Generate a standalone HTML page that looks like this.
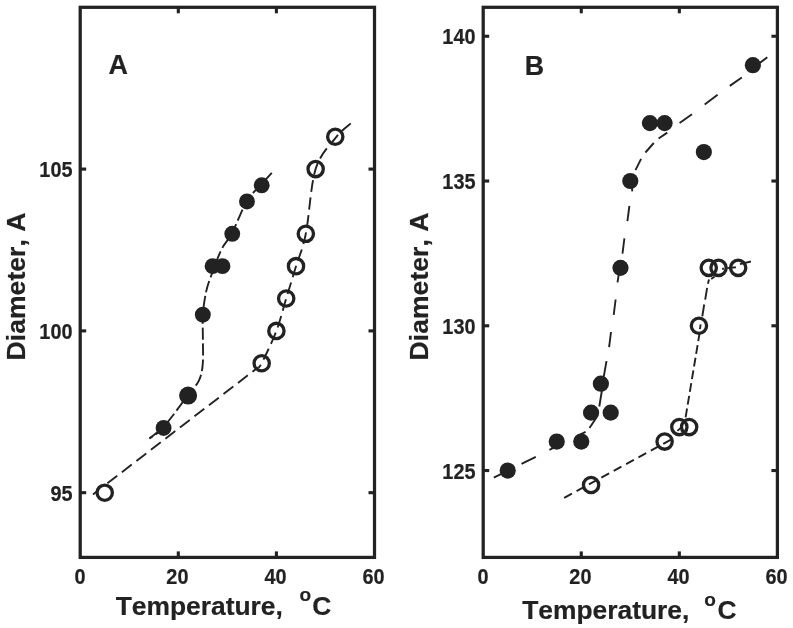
<!DOCTYPE html><html><head><meta charset="utf-8"><title>Diameter vs Temperature</title>
<style>html,body{margin:0;padding:0;background:#fff}svg{display:block;will-change:transform;opacity:.999}text{font-family:"Liberation Sans",Arial,Helvetica,sans-serif;font-weight:bold;fill:#222222;font-kerning:none;font-feature-settings:"kern" 0;stroke:#222222;stroke-width:.2px}.tk{stroke:#222222;stroke-width:.2px}</style></head><body>
<svg width="793" height="628" viewBox="0 0 793 628">
<rect width="793" height="628" fill="#fff"/>
<rect x="80.2" y="7.3" width="294.30" height="550.10" fill="none" stroke="#222222" stroke-width="3.25"/>
<line x1="178.30" y1="557.4" x2="178.30" y2="551.4" stroke="#222222" stroke-width="3.1"/>
<line x1="178.30" y1="7.3" x2="178.30" y2="13.3" stroke="#222222" stroke-width="3.1"/>
<line x1="276.40" y1="557.4" x2="276.40" y2="551.4" stroke="#222222" stroke-width="3.1"/>
<line x1="276.40" y1="7.3" x2="276.40" y2="13.3" stroke="#222222" stroke-width="3.1"/>
<line x1="80.2" y1="492.68" x2="86.2" y2="492.68" stroke="#222222" stroke-width="3.1"/>
<line x1="374.5" y1="492.68" x2="368.5" y2="492.68" stroke="#222222" stroke-width="3.1"/>
<text transform="translate(72.50,500.68) scale(0.925,1)" font-size="21.5" class="tk" text-anchor="end">95</text>
<line x1="80.2" y1="330.89" x2="86.2" y2="330.89" stroke="#222222" stroke-width="3.1"/>
<line x1="374.5" y1="330.89" x2="368.5" y2="330.89" stroke="#222222" stroke-width="3.1"/>
<text transform="translate(72.50,338.89) scale(0.925,1)" font-size="21.5" class="tk" text-anchor="end">100</text>
<line x1="80.2" y1="169.09" x2="86.2" y2="169.09" stroke="#222222" stroke-width="3.1"/>
<line x1="374.5" y1="169.09" x2="368.5" y2="169.09" stroke="#222222" stroke-width="3.1"/>
<text transform="translate(72.50,177.09) scale(0.925,1)" font-size="21.5" class="tk" text-anchor="end">105</text>
<text transform="translate(80.10,583.5) scale(0.925,1)" font-size="21.5" class="tk" text-anchor="middle">0</text>
<text transform="translate(177.40,583.5) scale(0.925,1)" font-size="21.5" class="tk" text-anchor="middle">20</text>
<text transform="translate(275.50,583.5) scale(0.925,1)" font-size="21.5" class="tk" text-anchor="middle">40</text>
<text transform="translate(373.60,583.5) scale(0.925,1)" font-size="21.5" class="tk" text-anchor="middle">60</text>
<rect x="483.2" y="7.3" width="294.20" height="550.10" fill="none" stroke="#222222" stroke-width="3.25"/>
<line x1="581.27" y1="557.4" x2="581.27" y2="551.4" stroke="#222222" stroke-width="3.1"/>
<line x1="581.27" y1="7.3" x2="581.27" y2="13.3" stroke="#222222" stroke-width="3.1"/>
<line x1="679.33" y1="557.4" x2="679.33" y2="551.4" stroke="#222222" stroke-width="3.1"/>
<line x1="679.33" y1="7.3" x2="679.33" y2="13.3" stroke="#222222" stroke-width="3.1"/>
<line x1="483.2" y1="470.54" x2="489.2" y2="470.54" stroke="#222222" stroke-width="3.1"/>
<line x1="777.4" y1="470.54" x2="771.4" y2="470.54" stroke="#222222" stroke-width="3.1"/>
<text transform="translate(475.50,478.54) scale(0.925,1)" font-size="21.5" class="tk" text-anchor="end">125</text>
<line x1="483.2" y1="325.78" x2="489.2" y2="325.78" stroke="#222222" stroke-width="3.1"/>
<line x1="777.4" y1="325.78" x2="771.4" y2="325.78" stroke="#222222" stroke-width="3.1"/>
<text transform="translate(475.50,333.78) scale(0.925,1)" font-size="21.5" class="tk" text-anchor="end">130</text>
<line x1="483.2" y1="181.02" x2="489.2" y2="181.02" stroke="#222222" stroke-width="3.1"/>
<line x1="777.4" y1="181.02" x2="771.4" y2="181.02" stroke="#222222" stroke-width="3.1"/>
<text transform="translate(475.50,189.02) scale(0.925,1)" font-size="21.5" class="tk" text-anchor="end">135</text>
<line x1="483.2" y1="36.25" x2="489.2" y2="36.25" stroke="#222222" stroke-width="3.1"/>
<line x1="777.4" y1="36.25" x2="771.4" y2="36.25" stroke="#222222" stroke-width="3.1"/>
<text transform="translate(475.50,44.25) scale(0.925,1)" font-size="21.5" class="tk" text-anchor="end">140</text>
<text transform="translate(483.10,583.5) scale(0.925,1)" font-size="21.5" class="tk" text-anchor="middle">0</text>
<text transform="translate(580.37,583.5) scale(0.925,1)" font-size="21.5" class="tk" text-anchor="middle">20</text>
<text transform="translate(678.43,583.5) scale(0.925,1)" font-size="21.5" class="tk" text-anchor="middle">40</text>
<text transform="translate(776.50,583.5) scale(0.925,1)" font-size="21.5" class="tk" text-anchor="middle">60</text>
<text transform="translate(25.4,286.5) rotate(-90)" font-size="26.6" text-anchor="middle">Diameter, A</text>
<text transform="translate(428.4,286.5) rotate(-90)" font-size="26.6" text-anchor="middle">Diameter, A</text>
<text x="115.7" y="614.6" font-size="26.4" xml:space="preserve">Temperature,  <tspan font-size="19" dx="2.0" dy="-13.4">o</tspan><tspan dx="1" dy="13.4">C</tspan></text>
<text x="522.2" y="619.3" font-size="26.4" xml:space="preserve">Temperature,  <tspan font-size="19" dx="0.2" dy="-13.4">o</tspan><tspan dx="1.7" dy="13.4">C</tspan></text>
<text x="108.6" y="73.6" font-size="26.9">A</text>
<text x="524.8" y="74.5" font-size="26.8">B</text>
<path d="M149.5,438.5 C151.8,436.6 156.9,434.6 163.3,427.4 C169.7,420.2 181.9,403.1 187.8,395.3 C193.7,387.5 196.4,385.7 198.9,380.6 C201.4,375.5 202.0,371.4 202.7,364.6 C203.4,357.8 202.9,348.4 202.9,340.0 C202.9,331.6 202.4,322.3 202.9,314.2 C203.4,306.1 204.9,297.6 206.2,291.4 C207.5,285.2 208.2,283.9 210.7,277.0 C213.2,270.1 217.7,257.3 221.2,250.0 C224.7,242.7 227.6,241.5 231.9,233.3 C236.2,225.2 242.0,209.2 246.9,201.1 C251.8,193.0 257.1,189.3 261.2,184.6 C265.3,179.9 270.0,174.8 271.8,172.8" fill="none" stroke="#222222" stroke-width="1.9" stroke-dasharray="12 3.8" stroke-dashoffset="8.28176423883215"/>
<path d="M149.5,438.5 L163.3,427.4" fill="none" stroke="#222222" stroke-width="1.9"/>
<path d="M93,494.4 L96.4,491.8" fill="none" stroke="#222222" stroke-width="1.9"/>
<path d="M107.4,483.3 L258,367.5" fill="none" stroke="#222222" stroke-width="1.9" stroke-dasharray="12.4 5.9"/>
<path d="M258.0,367.5 C258.6,366.8 258.6,369.3 261.7,363.2 C264.8,357.1 272.3,341.7 276.4,330.9 C280.5,320.1 282.9,309.3 286.2,298.5 C289.5,287.7 292.8,277.0 296.0,266.2 C299.3,255.4 302.6,250.0 305.8,233.8 C309.1,217.6 310.6,185.2 315.6,169.1 C320.7,153.0 330.1,145.0 336.0,137.4 C341.9,129.8 348.3,125.7 350.8,123.4" fill="none" stroke="#222222" stroke-width="1.9" stroke-dasharray="12 5.5" stroke-dashoffset="7.487773634751932"/>
<line x1="493.8" y1="477.6" x2="507" y2="471.2" stroke="#222222" stroke-width="1.9"/>
<line x1="521.5" y1="463.9" x2="535.8" y2="456.8" stroke="#222222" stroke-width="1.9"/>
<line x1="549.4" y1="449.9" x2="560" y2="444.6" stroke="#222222" stroke-width="1.9"/>
<line x1="577" y1="436" x2="585.6" y2="431.8" stroke="#222222" stroke-width="1.9"/>
<line x1="589.5" y1="428" x2="596.8" y2="417" stroke="#222222" stroke-width="1.9"/>
<line x1="599.3" y1="406.5" x2="602" y2="390" stroke="#222222" stroke-width="1.9"/>
<line x1="603.8" y1="376.3" x2="606.5" y2="361.1" stroke="#222222" stroke-width="1.9"/>
<line x1="609.1" y1="347.2" x2="611" y2="332" stroke="#222222" stroke-width="1.9"/>
<line x1="613.7" y1="314.8" x2="615.6" y2="299.5" stroke="#222222" stroke-width="1.9"/>
<line x1="617.5" y1="282.3" x2="620.4" y2="264" stroke="#222222" stroke-width="1.9"/>
<line x1="622.5" y1="253.6" x2="624.4" y2="238.3" stroke="#222222" stroke-width="1.9"/>
<line x1="627.4" y1="221.1" x2="629.4" y2="205.9" stroke="#222222" stroke-width="1.9"/>
<line x1="632.3" y1="191.3" x2="631.2" y2="180" stroke="#222222" stroke-width="1.9"/>
<line x1="635.5" y1="170.1" x2="641.1" y2="158.9" stroke="#222222" stroke-width="1.9"/>
<line x1="645.4" y1="152.5" x2="653.8" y2="143" stroke="#222222" stroke-width="1.9"/>
<line x1="658.6" y1="138.5" x2="667.3" y2="132.6" stroke="#222222" stroke-width="1.9"/>
<line x1="679.6" y1="123.1" x2="692" y2="114.3" stroke="#222222" stroke-width="1.9"/>
<line x1="704.7" y1="104.4" x2="717.6" y2="94.8" stroke="#222222" stroke-width="1.9"/>
<line x1="729.8" y1="85.9" x2="741.8" y2="77.5" stroke="#222222" stroke-width="1.9"/>
<line x1="752" y1="68.8" x2="767.3" y2="57.3" stroke="#222222" stroke-width="1.9"/>
<path d="M564.2,497.9 L671.6,439.3" fill="none" stroke="#222222" stroke-width="1.9" stroke-dasharray="8.8 5.3"/>
<path d="M685.6,417.3 L699.7,332.4" fill="none" stroke="#222222" stroke-width="1.9" stroke-dasharray="8.9 3.97"/>
<line x1="677.4" y1="430.9" x2="680.8" y2="427.9" stroke="#222222" stroke-width="1.9"/>
<line x1="699.9" y1="329.2" x2="700.7" y2="324.4" stroke="#222222" stroke-width="1.9"/>
<line x1="702.3" y1="316.4" x2="704.2" y2="304.5" stroke="#222222" stroke-width="1.9"/>
<line x1="705.2" y1="299.7" x2="707.1" y2="287.8" stroke="#222222" stroke-width="1.9"/>
<line x1="707.9" y1="283.8" x2="709" y2="279.6" stroke="#222222" stroke-width="1.9"/>
<line x1="711.2" y1="279.1" x2="714.7" y2="276.5" stroke="#222222" stroke-width="1.9"/>
<line x1="722.2" y1="269" x2="724" y2="268.5" stroke="#222222" stroke-width="1.9"/>
<line x1="727.5" y1="268.1" x2="735.9" y2="267.2" stroke="#222222" stroke-width="1.9"/>
<line x1="739.9" y1="264.1" x2="750.9" y2="261.5" stroke="#222222" stroke-width="1.9"/>
<circle cx="163.59" cy="427.96" r="7.95" fill="#222222"/>
<circle cx="202.82" cy="314.71" r="7.95" fill="#222222"/>
<circle cx="212.63" cy="266.17" r="7.95" fill="#222222"/>
<circle cx="222.44" cy="266.17" r="7.95" fill="#222222"/>
<circle cx="232.25" cy="233.81" r="7.95" fill="#222222"/>
<circle cx="246.97" cy="201.45" r="7.95" fill="#222222"/>
<circle cx="261.69" cy="185.27" r="7.95" fill="#222222"/>
<circle cx="188.11" cy="395.61" r="9.0" fill="#222222"/>
<circle cx="104.72" cy="492.68" r="7.65" fill="none" stroke="#222222" stroke-width="3.3"/>
<circle cx="261.69" cy="363.25" r="7.65" fill="none" stroke="#222222" stroke-width="3.3"/>
<circle cx="276.40" cy="330.89" r="7.65" fill="none" stroke="#222222" stroke-width="3.3"/>
<circle cx="286.21" cy="298.53" r="7.65" fill="none" stroke="#222222" stroke-width="3.3"/>
<circle cx="296.02" cy="266.17" r="7.65" fill="none" stroke="#222222" stroke-width="3.3"/>
<circle cx="305.83" cy="233.81" r="7.65" fill="none" stroke="#222222" stroke-width="3.3"/>
<circle cx="315.64" cy="169.09" r="7.65" fill="none" stroke="#222222" stroke-width="3.3"/>
<circle cx="335.26" cy="136.74" r="7.65" fill="none" stroke="#222222" stroke-width="3.3"/>
<circle cx="507.72" cy="470.54" r="8.1" fill="#222222"/>
<circle cx="556.75" cy="441.59" r="8.1" fill="#222222"/>
<circle cx="581.27" cy="441.59" r="8.1" fill="#222222"/>
<circle cx="591.07" cy="412.64" r="8.1" fill="#222222"/>
<circle cx="610.69" cy="412.64" r="8.1" fill="#222222"/>
<circle cx="600.88" cy="383.68" r="8.1" fill="#222222"/>
<circle cx="620.49" cy="267.87" r="8.1" fill="#222222"/>
<circle cx="630.30" cy="181.02" r="8.1" fill="#222222"/>
<circle cx="649.91" cy="123.11" r="8.1" fill="#222222"/>
<circle cx="664.62" cy="123.11" r="8.1" fill="#222222"/>
<circle cx="703.85" cy="152.06" r="8.1" fill="#222222"/>
<circle cx="752.88" cy="65.21" r="8.1" fill="#222222"/>
<circle cx="591.07" cy="485.02" r="7.65" fill="none" stroke="#222222" stroke-width="3.3"/>
<circle cx="664.62" cy="441.59" r="7.65" fill="none" stroke="#222222" stroke-width="3.3"/>
<circle cx="679.33" cy="427.11" r="7.65" fill="none" stroke="#222222" stroke-width="3.3"/>
<circle cx="689.14" cy="427.11" r="7.65" fill="none" stroke="#222222" stroke-width="3.3"/>
<circle cx="698.95" cy="325.78" r="7.65" fill="none" stroke="#222222" stroke-width="3.3"/>
<circle cx="708.75" cy="267.87" r="7.65" fill="none" stroke="#222222" stroke-width="3.3"/>
<circle cx="718.56" cy="267.87" r="7.65" fill="none" stroke="#222222" stroke-width="3.3"/>
<circle cx="738.17" cy="267.87" r="7.65" fill="none" stroke="#222222" stroke-width="3.3"/>
</svg></body></html>
